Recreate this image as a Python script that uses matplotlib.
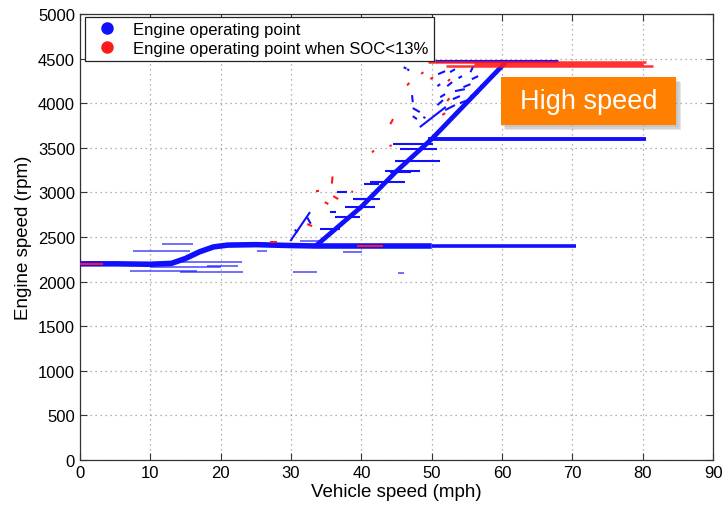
import numpy as np
import matplotlib
matplotlib.use("Agg")
import matplotlib.pyplot as plt
from matplotlib.collections import LineCollection
from matplotlib.lines import Line2D
from matplotlib.patches import Rectangle

plt.rcParams['font.family'] = ['Liberation Sans', 'DejaVu Sans']

# ---- main operating-point bands (vehicle speed mph, engine speed rpm) ----
idle_speed = [0, 5, 10, 13, 15, 17, 19, 21, 25, 30, 33.5, 40, 50]
idle_rpm = [2200, 2200, 2195, 2205, 2260, 2335, 2390, 2410, 2415, 2405, 2400, 2400, 2400]
cruise_speed = [50, 60, 70.5]
cruise_rpm = [2400, 2400, 2400]
ramp_speed = [33.5, 40, 45, 50, 55, 60.5]
ramp_rpm = [2400, 2840, 3240, 3600, 4010, 4460]
mid_speed = [49.5, 80.5]
mid_rpm = [3595, 3595]
top_blue_speed = [50.5, 68]
top_blue_rpm = [4470, 4470]
top_red_speed = [[49.5, 80.5], [52, 81.5], [56, 80]]
top_red_rpm = [[4465, 4465], [4420, 4420], [4445, 4445]]

# low-speed spread around the idle band (x0, y0, x1, y1)
spread_x0 = [7.1, 14.2, 13.8, 11.7, 7.5, 25.2, 30.3, 45.2, 37.4, 31.3, 10.0, 18.0]
spread_y0 = [2120, 2110, 2220, 2421, 2343, 2343, 2107, 2100, 2330, 2455, 2160, 2170]
spread_x1 = [16.6, 23.2, 23.0, 16.1, 15.6, 26.6, 33.7, 46.0, 40.1, 34.1, 20.0, 22.5]
spread_y1 = [2120, 2110, 2220, 2421, 2343, 2343, 2107, 2100, 2330, 2455, 2160, 2170]

# short transient traces next to the ramp (x0, y0, x1, y1)
blue_x0 = [45.5, 44.8, 43.4, 41.2, 39.1, 37.7, 36.3, 34.1, 44.5, 44.0,
           46.5, 50.9, 52.6, 53.8, 55.5, 55.7, 50.8, 52.2, 53.3, 54.5,
           51.2, 47.2, 47.3, 48.8, 50.8, 51.9, 53.0, 54.0, 55.5, 56.9,
           47.3, 29.9, 32.3, 30.5, 35.6, 36.5, 38.8, 40.3, 46.0, 48.3]
blue_y0 = [3486, 3352, 3240, 3116, 2926, 2836, 2724, 2590, 3542, 3228,
           4383, 4327, 4350, 4283, 4350, 4271, 4193, 4193, 4137, 4182,
           4069, 4092, 3947, 3847, 3980, 3924, 4047, 4002, 4081, 4193,
           3856, 2455, 2720, 2580, 2780, 3000, 2925, 3100, 4405, 3733]
blue_x1 = [50.8, 51.2, 48.3, 46.2, 42.7, 41.9, 39.8, 37.0, 50.2, 47.0,
           46.8, 51.9, 53.3, 54.3, 55.9, 56.6, 51.2, 52.9, 54.7, 55.5,
           51.9, 47.3, 48.3, 49.1, 51.6, 53.3, 54.0, 55.5, 56.6, 57.6,
           47.9, 32.7, 32.8, 31.0, 36.4, 38.0, 40.5, 42.5, 46.4, 52.0]
blue_y1 = [3486, 3352, 3240, 3116, 2926, 2836, 2724, 2590, 3542, 3228,
           4370, 4361, 4383, 4305, 4417, 4305, 4215, 4238, 4159, 4215,
           4103, 4013, 3902, 3835, 4036, 3980, 4081, 4047, 4114, 4215,
           3823, 2780, 2650, 2560, 2780, 3000, 2925, 3100, 4390, 3960]

red_x0 = [49.8, 52.3, 44.1, 51.5, 52.2, 35.8, 36.0, 38.6, 33.6, 34.8,
          32.3, 39.4, 27.0, 0.0, 44.0, 46.5, 48.5, 41.5]
red_y0 = [4271, 4249, 3767, 3869, 4025, 3100, 2960, 3004, 3016, 2892,
          2646, 2400, 2444, 2200, 3520, 4200, 4330, 3450]
red_x1 = [50.2, 52.6, 44.5, 51.9, 52.5, 35.9, 36.7, 38.8, 34.0, 35.3,
          33.0, 43.0, 28.0, 3.3, 44.3, 46.8, 48.8, 41.8]
red_y1 = [4293, 4271, 3823, 3891, 4058, 3180, 2926, 3015, 3016, 2870,
          2623, 2400, 2444, 2200, 3530, 4230, 4350, 3470]

x_ticks = list(range(0, 91, 10))
y_ticks = list(range(0, 5001, 500))

BLUE = '#1010ff'
RED = '#ff1a1a'

fig = plt.figure(figsize=(7.27, 5.06), dpi=100)
ax = fig.add_axes([0.110, 0.089, 0.871, 0.881])

# thick operating bands
ax.plot(idle_speed, idle_rpm, color=BLUE, lw=4.0, solid_capstyle='butt', zorder=3)
ax.plot(cruise_speed, cruise_rpm, color=BLUE, lw=2.6, solid_capstyle='butt', zorder=3)
ax.plot(ramp_speed, ramp_rpm, color=BLUE, lw=3.4, solid_capstyle='butt', zorder=3)
ax.plot(mid_speed, mid_rpm, color=BLUE, lw=2.8, solid_capstyle='butt', zorder=3)
ax.plot(top_blue_speed, top_blue_rpm, color=BLUE, lw=2.2, solid_capstyle='butt', zorder=3)
for xs, ys in zip(top_red_speed, top_red_rpm):
    ax.plot(xs, ys, color=RED, lw=1.8, solid_capstyle='butt', zorder=4, alpha=0.9)


def segments(x0, y0, x1, y1):
    return np.stack([np.column_stack([x0, y0]), np.column_stack([x1, y1])], axis=1)


ax.add_collection(LineCollection(segments(spread_x0, spread_y0, spread_x1, spread_y1),
                                 colors=BLUE, linewidths=1.2, alpha=0.7, zorder=2))
ax.add_collection(LineCollection(segments(blue_x0, blue_y0, blue_x1, blue_y1),
                                 colors=BLUE, linewidths=1.5, zorder=3))
ax.add_collection(LineCollection(segments(red_x0, red_y0, red_x1, red_y1),
                                 colors=RED, linewidths=1.5, zorder=4))

ax.set_xlim(0, 90)
ax.set_ylim(0, 5000)
ax.set_xticks(x_ticks)
ax.set_yticks(y_ticks)
ax.tick_params(direction='in', top=True, right=True, length=5, labelsize=12,
               width=0.8, color='#333333')
ax.grid(True, linestyle=(0, (1, 3)), color='#999999', linewidth=0.9)
for s in ax.spines.values():
    s.set_color('#333333')
    s.set_linewidth(0.9)

ax.set_xlabel('Vehicle speed (mph)', fontsize=13.5, labelpad=2)
ax.set_ylabel('Engine speed (rpm)', fontsize=13.5, labelpad=4)

handles = [
    Line2D([], [], marker='o', color=BLUE, linestyle='none', markersize=8),
    Line2D([], [], marker='o', color=RED, linestyle='none', markersize=8),
]
leg = ax.legend(handles, ['Engine operating point', 'Engine operating point when SOC<13%'],
                loc='upper left', bbox_to_anchor=(0.008, 0.994), borderaxespad=0,
                fontsize=12, fancybox=False, edgecolor='#222222', framealpha=1,
                handletextpad=0.6, labelspacing=0.25, borderpad=0.3)
leg.get_frame().set_linewidth(0.9)
leg.set_zorder(10)

# "High speed" callout with a soft drop shadow
bx, by, bw, bh = 0.665, 0.751, 0.277, 0.108
for i, a in enumerate([0.10, 0.12, 0.15]):
    off = 0.003 + 0.002 * i
    ax.add_patch(Rectangle((bx + off, by - off * 1.6), bw, bh, transform=ax.transAxes,
                           facecolor='#555555', edgecolor='none', alpha=a, zorder=11))
ax.add_patch(Rectangle((bx, by), bw, bh, transform=ax.transAxes,
                       facecolor='#ff8000', edgecolor='none', zorder=12))
ax.text(bx + bw / 2, by + bh / 2, 'High speed', transform=ax.transAxes,
        ha='center', va='center', color='white', fontsize=19.5, zorder=13)

fig.savefig('out.png', dpi=100)
